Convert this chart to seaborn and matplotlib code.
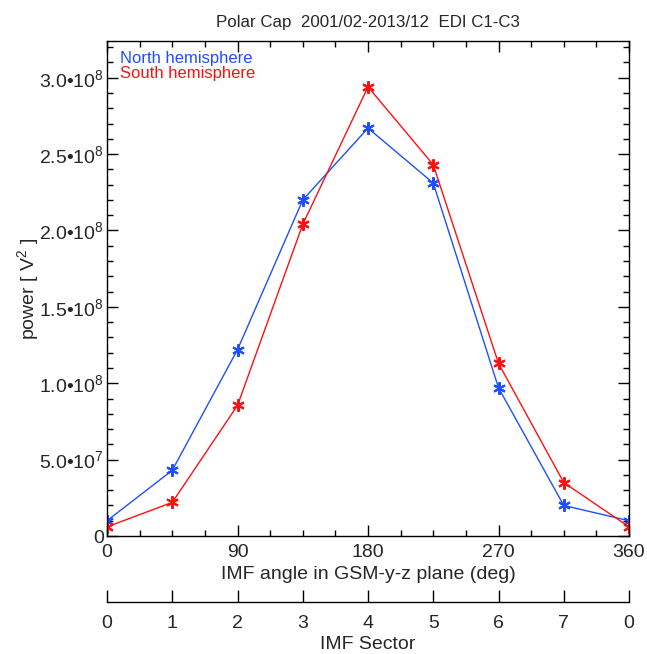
import numpy as np
import pandas as pd
import matplotlib
matplotlib.use("Agg")
import matplotlib.pyplot as plt
import seaborn as sns
from matplotlib.ticker import MultipleLocator, FixedLocator

sns.set_style("white")
plt.rcParams["font.family"] = ["Liberation Sans", "DejaVu Sans"]
plt.rcParams["mathtext.fontset"] = "custom"
plt.rcParams["mathtext.rm"] = "Liberation Sans"
plt.rcParams["mathtext.default"] = "regular"

# IMF clock angle bins (deg)
angle = [0, 45, 90, 135, 180, 225, 270, 315, 360]
north_power = [1.0e7, 4.3e7, 1.22e8, 2.20e8, 2.67e8, 2.31e8, 0.97e8, 2.0e7, 1.0e7]
south_power = [0.6e7, 2.2e7, 0.855e8, 2.04e8, 2.94e8, 2.43e8, 1.13e8, 3.5e7, 0.6e7]

sector_ticks = [0, 45, 90, 135, 180, 225, 270, 315, 360]
sector_labels = ["0", "1", "2", "3", "4", "5", "6", "7", "0"]
ytick_vals = [0, 5e7, 1e8, 1.5e8, 2e8, 2.5e8, 3e8]
ytick_labels = ["0", "5.0•10$^7$", "1.0•10$^8$", "1.5•10$^8$", "2.0•10$^8$",
                "2.5•10$^8$", "3.0•10$^8$"]

BLUE = "#1f4fff"
RED = "#ff1010"
FS = 14

df = pd.DataFrame({
    "angle": angle * 2,
    "power": north_power + south_power,
    "hemi": ["North"] * len(angle) + ["South"] * len(angle),
})

fig = plt.figure(figsize=(6.47, 6.54), dpi=100)
ax = fig.add_axes([0.1654, 0.1804, 0.8068, 0.7569])

sns.lineplot(data=df, x="angle", y="power", hue="hemi",
             palette={"North": BLUE, "South": RED}, marker=(6, 2, 0),
             markersize=9, markeredgewidth=1.5, linewidth=1.0,
             legend=False, ax=ax)
for line in ax.lines:
    line.set_markeredgecolor(line.get_color())

ax.set_xlim(0, 360)
ax.set_ylim(0, 3.24e8)
ax.xaxis.set_major_locator(FixedLocator([0, 90, 180, 270, 360]))
ax.xaxis.set_minor_locator(MultipleLocator(22.5))
ax.yaxis.set_major_locator(FixedLocator(ytick_vals))
ax.set_yticklabels(ytick_labels)
ax.yaxis.set_minor_locator(MultipleLocator(1e7))
ax.tick_params(which="both", direction="in", top=True, right=True,
               bottom=True, left=True, width=1.0, color="black")
ax.tick_params(which="major", length=8)
ax.tick_params(which="minor", length=4.5)
ax.tick_params(axis="y", labelsize=FS, pad=2)
ax.tick_params(axis="x", labelsize=FS, pad=6)
for s in ax.spines.values():
    s.set_color("black")
    s.set_linewidth(1.0)

ax.set_xlabel("IMF angle in GSM-y-z plane (deg)", fontsize=FS, labelpad=3)
ax.set_ylabel("power [ V$^2$ ]", fontsize=FS)
ax.yaxis.set_label_coords(-0.127, 0.5)
ax.set_title("Polar Cap  2001/02-2013/12  EDI C1-C3", fontsize=12.2, pad=10)

ax.text(0.024, 0.980, "North hemisphere", color=BLUE, fontsize=12,
        transform=ax.transAxes, va="top", ha="left")
ax.text(0.024, 0.949, "South hemisphere", color=RED, fontsize=12,
        transform=ax.transAxes, va="top", ha="left")

# IMF sector axis below
ax2 = fig.add_axes([0.1654, 0.0795, 0.8068, 0.0001])
ax2.set_xlim(0, 360)
ax2.set_ylim(0, 1)
for side in ["top", "left", "right"]:
    ax2.spines[side].set_visible(False)
ax2.spines["bottom"].set_color("black")
ax2.spines["bottom"].set_linewidth(1.0)
ax2.set_yticks([])
ax2.set_xticks(sector_ticks)
ax2.set_xticklabels(sector_labels)
ax2.tick_params(axis="x", which="major", direction="in", bottom=True,
                length=9, width=1.0, color="black", labelsize=FS, pad=9)
ax2.set_xlabel("IMF Sector", fontsize=FS, labelpad=3)
ax2.patch.set_visible(False)

fig.savefig("out.png", dpi=100)
